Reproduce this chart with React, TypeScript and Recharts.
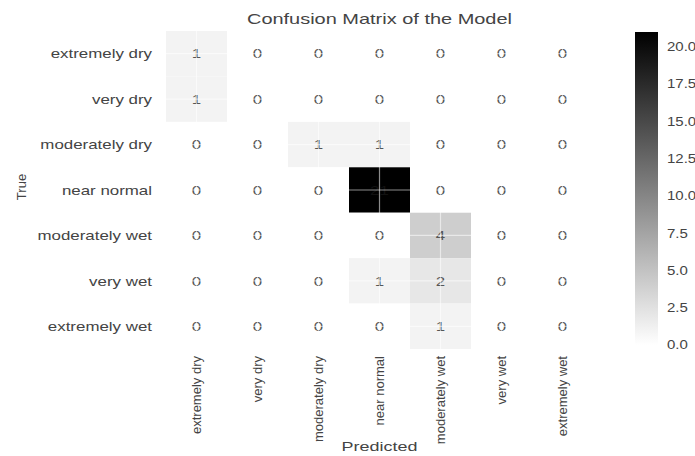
import {
  ScatterChart,
  Scatter,
  XAxis,
  YAxis,
  ReferenceLine,
  BarChart,
  Bar,
} from "recharts";

const classes = [
  "extremely dry",
  "very dry",
  "moderately dry",
  "near normal",
  "moderately wet",
  "very wet",
  "extremely wet",
];

// one row per true class, columns are predicted classes
const extremelyDryRow = [1, 0, 0, 0, 0, 0, 0];
const veryDryRow = [1, 0, 0, 0, 0, 0, 0];
const moderatelyDryRow = [0, 0, 1, 1, 0, 0, 0];
const nearNormalRow = [0, 0, 0, 21, 0, 0, 0];
const moderatelyWetRow = [0, 0, 0, 0, 4, 0, 0];
const veryWetRow = [0, 0, 0, 1, 2, 0, 0];
const extremelyWetRow = [0, 0, 0, 0, 1, 0, 0];

const colorbarTicks = [0, 2.5, 5, 7.5, 10, 12.5, 15, 17.5, 20];
const vmax = 21;

const rows = [
  extremelyDryRow,
  veryDryRow,
  moderatelyDryRow,
  nearNormalRow,
  moderatelyWetRow,
  veryWetRow,
  extremelyWetRow,
];

interface Cell {
  x: number;
  y: number;
  v: number;
}

const cells: Cell[] = [];
rows.forEach((row, y) => row.forEach((v, x) => cells.push({ x, y, v })));

const indices = classes.map((_, i) => i);

const W = 695;
const H = 456;
const MARGIN = { top: 31, right: 102, left: 0, bottom: 0 };
const Y_AXIS_W = 166;
const X_AXIS_H = 107;
const PLOT_W = W - MARGIN.right - Y_AXIS_W;
const PLOT_H = H - MARGIN.top - X_AXIS_H;
const CELL_W = PLOT_W / classes.length;
const CELL_H = PLOT_H / classes.length;

const FONT = '"Liberation Sans", Arial, sans-serif';
const TEXT = "#444";
const STRETCH = 1.3;

const grey = (v: number) => {
  const g = Math.round(255 * (1 - v / vmax));
  return `rgb(${g},${g},${g})`;
};

const HeatCell = (props: any) => {
  const { cx, cy, payload } = props;
  if (cx == null || cy == null) return null;
  const v = payload.v as number;
  return (
    <g>
      <rect
        x={cx - CELL_W / 2}
        y={cy - CELL_H / 2}
        width={CELL_W}
        height={CELL_H}
        fill={grey(v)}
      />
      <g transform={`translate(${cx},${cy}) scale(${STRETCH},1)`}>
        <text
          x={0}
          y={0}
          dy="0.36em"
          textAnchor="middle"
          fontSize={13}
          fontFamily={FONT}
          fill={v > vmax / 2 ? "#111" : "#555"}
        >
          {v}
        </text>
      </g>
    </g>
  );
};

const RowTick = (props: any) => {
  const { x, y, payload } = props;
  return (
    <g transform={`translate(${x},${y}) scale(${STRETCH},1)`}>
      <text
        x={0}
        y={0}
        dy="0.36em"
        textAnchor="end"
        fontSize={13}
        fontFamily={FONT}
        fill={TEXT}
      >
        {classes[payload.value]}
      </text>
    </g>
  );
};

const ColTick = (props: any) => {
  const { x, y, payload } = props;
  return (
    <text
      transform={`translate(${x},${y}) rotate(-90)`}
      x={0}
      y={0}
      dy="0.36em"
      textAnchor="end"
      fontSize={13}
      fontFamily={FONT}
      fill={TEXT}
    >
      {classes[payload.value]}
    </text>
  );
};

const BarTick = (props: any) => {
  const { x, y, payload } = props;
  return (
    <g transform={`translate(${x},${y}) scale(1.25,1)`}>
      <text
        x={0}
        y={0}
        dy="0.36em"
        textAnchor="start"
        fontSize={12}
        fontFamily={FONT}
        fill={TEXT}
      >
        {payload.value.toFixed(1)}
      </text>
    </g>
  );
};

export default function App() {
  return (
    <div
      style={{
        position: "absolute",
        left: 0,
        top: 0,
        width: W,
        height: H,
        background: "#fff",
        fontFamily: FONT,
        overflow: "hidden",
      }}
    >
      <div
        style={{
          position: "absolute",
          left: MARGIN.left + Y_AXIS_W,
          top: 10,
          width: PLOT_W,
          textAlign: "center",
          fontSize: 15,
          color: TEXT,
          transform: `scaleX(1.33)`,
          lineHeight: "18px",
        }}
      >
        Confusion Matrix of the Model
      </div>
      <div
        style={{
          position: "absolute",
          left: 9,
          top: MARGIN.top + PLOT_H / 2 - 10,
          fontSize: 13,
          color: TEXT,
          transform: "rotate(-90deg)",
          lineHeight: "14px",
        }}
      >
        True
      </div>
      <div
        style={{
          position: "absolute",
          left: MARGIN.left + Y_AXIS_W,
          top: 439,
          width: PLOT_W,
          textAlign: "center",
          fontSize: 13,
          color: TEXT,
          transform: `scaleX(1.38)`,
          lineHeight: "16px",
        }}
      >
        Predicted
      </div>
      <div style={{ position: "absolute", left: 0, top: 0 }}>
        <ScatterChart width={W} height={H} margin={MARGIN}>
          <XAxis
            type="number"
            dataKey="x"
            domain={[-0.5, classes.length - 0.5]}
            ticks={indices}
            interval={0}
            axisLine={false}
            tickLine={false}
            tickSize={0}
            tickMargin={7}
            height={X_AXIS_H}
            tick={<ColTick />}
          />
          <YAxis
            type="number"
            dataKey="y"
            domain={[-0.5, classes.length - 0.5]}
            ticks={indices}
            interval={0}
            reversed
            axisLine={false}
            tickLine={false}
            tickSize={0}
            tickMargin={14}
            width={Y_AXIS_W}
            tick={<RowTick />}
          />
          <Scatter
            data={cells}
            shape={<HeatCell />}
            isAnimationActive={false}
          />
          {indices.map((i) => (
            <ReferenceLine
              key={`vx${i}`}
              x={i}
              stroke="#fff"
              strokeOpacity={0.55}
              strokeWidth={1.2}
              zIndex={700}
            />
          ))}
          {indices.map((i) => (
            <ReferenceLine
              key={`hy${i}`}
              y={i}
              stroke="#fff"
              strokeOpacity={0.55}
              strokeWidth={1.2}
              zIndex={700}
            />
          ))}
        </ScatterChart>
      </div>
      <div style={{ position: "absolute", left: 635, top: 0 }}>
        <BarChart
          width={60}
          height={H}
          data={[{ k: "cb", v: vmax }]}
          margin={{ top: 32, right: 0, left: 0, bottom: 111 }}
          barCategoryGap={0}
          style={{ overflow: "visible" }}
        >
          <defs>
            <linearGradient id="cbGrad" x1="0" y1="0" x2="0" y2="1">
              <stop offset="0%" stopColor="#000" />
              <stop offset="100%" stopColor="#fff" />
            </linearGradient>
          </defs>
          <XAxis dataKey="k" hide />
          <YAxis
            orientation="right"
            domain={[0, vmax]}
            ticks={colorbarTicks}
            interval={0}
            axisLine={false}
            tickLine={false}
            tickSize={0}
            tickMargin={9}
            width={37}
            tick={<BarTick />}
          />
          <Bar dataKey="v" fill="url(#cbGrad)" isAnimationActive={false} />
        </BarChart>
      </div>
    </div>
  );
}
